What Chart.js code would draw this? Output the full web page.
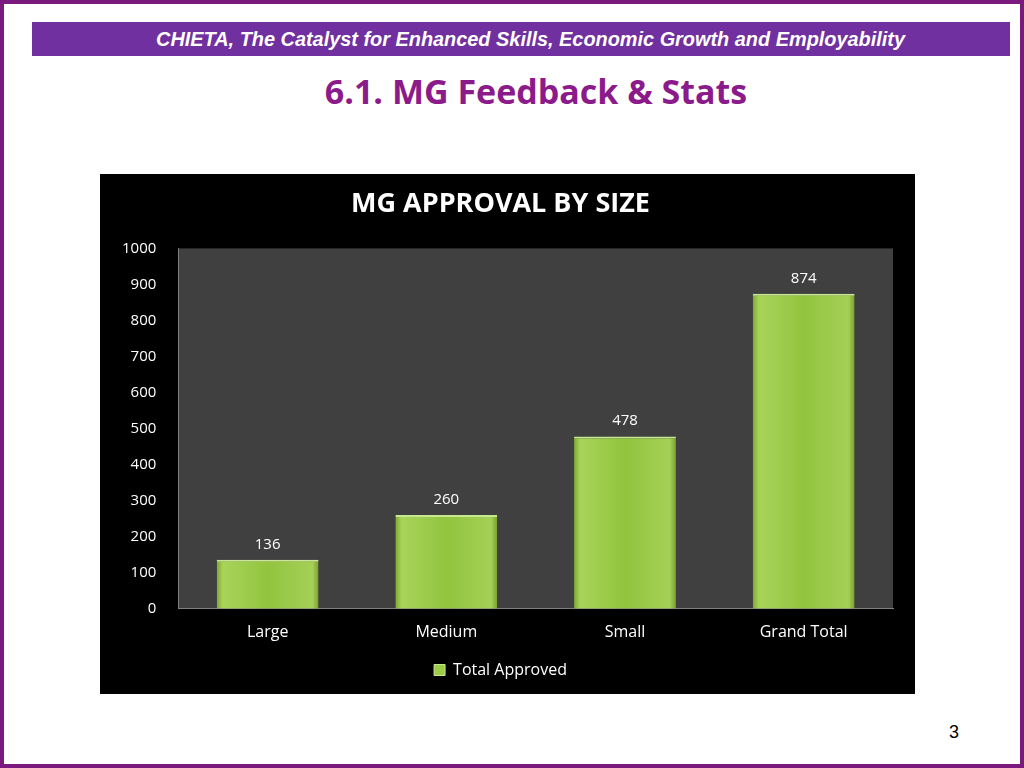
<!DOCTYPE html>
<html>
<head>
<meta charset="utf-8">
<script src="https://cdn.jsdelivr.net/npm/chart.js@4"></script>
<style>
  html, body { margin: 0; padding: 0; background: #fff; }
  #page { position: relative; width: 1024px; height: 768px; box-sizing: border-box; border: 4px solid #7a1a7e; overflow: hidden; font-family: "Liberation Sans", Arial, sans-serif; }
  #band { position: absolute; left: 28px; top: 18px; width: 978px; height: 34px; background: #7030a0; color: #fff; font-style: italic; font-weight: bold; font-size: 19.9px; line-height: 34px; text-align: right; padding-right: 105px; box-sizing: border-box; }
  #heading { position: absolute; left: 0; width: 1064px; top: 64px; text-align: center; color: #8b1a8b; font-family: "Open Sans", sans-serif; font-weight: bold; font-size: 34px; }
  #box { position: absolute; left: 96px; top: 170px; width: 815px; height: 520px; background: #000; }
  #pnum { position: absolute; left: 945px; top: 718px; font-size: 18px; color: #000; }
</style>
</head>
<body>
<div id="page">
  <div id="band">CHIETA, The Catalyst for Enhanced Skills, Economic Growth and Employability</div>
  <div id="heading">6.1. MG Feedback &amp; Stats</div>
  <div id="box"><canvas id="chart" width="815" height="520"></canvas></div>
  <div id="pnum">3</div>
</div>
<script>
// данные диаграммы
const categories = ['Large', 'Medium', 'Small', 'Grand Total'];
const approved = [136, 260, 478, 874];
const yTicks = [0, 100, 200, 300, 400, 500, 600, 700, 800, 900, 1000];
const BAR_PCT = 0.57;

// серый фон области построения
const plotBg = {
    id: 'plotBg',
    beforeDraw(chart) {
        const { ctx, chartArea: a } = chart;
        ctx.save();
        ctx.fillStyle = '#404040';
        ctx.fillRect(a.left, a.top, a.right - a.left, a.bottom - a.top);
        ctx.restore();
    }
};

// подписи значений над столбцами
const valueLabels = {
    id: 'valueLabels',
    afterDatasetsDraw(chart) {
        const ctx = chart.ctx;
        ctx.save();
        ctx.fillStyle = '#fff';
        ctx.font = '15px "Open Sans", sans-serif';
        ctx.textAlign = 'center';
        ctx.textBaseline = 'bottom';
        chart.getDatasetMeta(0).data.forEach((bar, i) => {
            ctx.fillText(approved[i], bar.x, bar.y - 8);
        });
        ctx.restore();
    }
};

function barFill(context) {
    const chart = context.chart;
    const a = chart.chartArea;
    if (!a || context.dataIndex == null || !chart.scales.x) return '#9ccc48';
    const w = (a.right - a.left) / categories.length * BAR_PCT;
    const cx = chart.scales.x.getPixelForValue(context.dataIndex);
    const g = chart.ctx.createLinearGradient(cx - w / 2, 0, cx + w / 2, 0);
    g.addColorStop(0, '#7fa832');
    g.addColorStop(0.06, '#a8d45a');
    g.addColorStop(0.5, '#92c43e');
    g.addColorStop(0.94, '#a4d056');
    g.addColorStop(1, '#7a9f30');
    return g;
}

new Chart(document.getElementById('chart'), {
    type: 'bar',
    data: {
        labels: categories,
        datasets: [{
            label: 'Total Approved',
            data: approved,
            backgroundColor: barFill,
            borderColor: '#c8e890',
            borderWidth: { top: 2, left: 0, right: 0, bottom: 0 },
            barPercentage: BAR_PCT,
            categoryPercentage: 1.0
        }]
    },
    options: {
        responsive: false,
        animation: false,
        layout: { padding: { left: 8, right: 22, top: 0, bottom: 6 } },
        plugins: {
            title: {
                display: true,
                text: 'MG APPROVAL BY SIZE',
                color: '#fff',
                font: { family: 'Open Sans', size: 27, weight: 'bold' },
                padding: { top: 14, bottom: 28 }
            },
            legend: {
                position: 'bottom',
                labels: {
                    color: '#fff',
                    font: { family: 'Open Sans', size: 16 },
                    boxWidth: 11, boxHeight: 11,
                    padding: 8,
                    generateLabels(chart) {
                        return chart.data.datasets.map((ds, i) => ({
                            text: ds.label, fillStyle: '#9ccc48', strokeStyle: '#c8e890',
                            lineWidth: 1, fontColor: '#fff', datasetIndex: i
                        }));
                    }
                }
            },
            tooltip: { enabled: false }
        },
        scales: {
            x: {
                grid: { display: false },
                border: { color: '#808080' },
                afterFit(axis) { axis.height += 6; },
                ticks: { color: '#fff', font: { family: 'Open Sans', size: 16 }, padding: 6 }
            },
            y: {
                min: 0, max: 1000,
                afterBuildTicks(axis) { axis.ticks = yTicks.map(v => ({ value: v })); },
                grid: { display: false },
                border: { color: '#808080' },
                ticks: { color: '#fff', font: { family: 'Open Sans', size: 15 }, padding: 14, callback: v => String(v) }
            }
        }
    },
    plugins: [plotBg, valueLabels]
});
</script>
</body>
</html>
